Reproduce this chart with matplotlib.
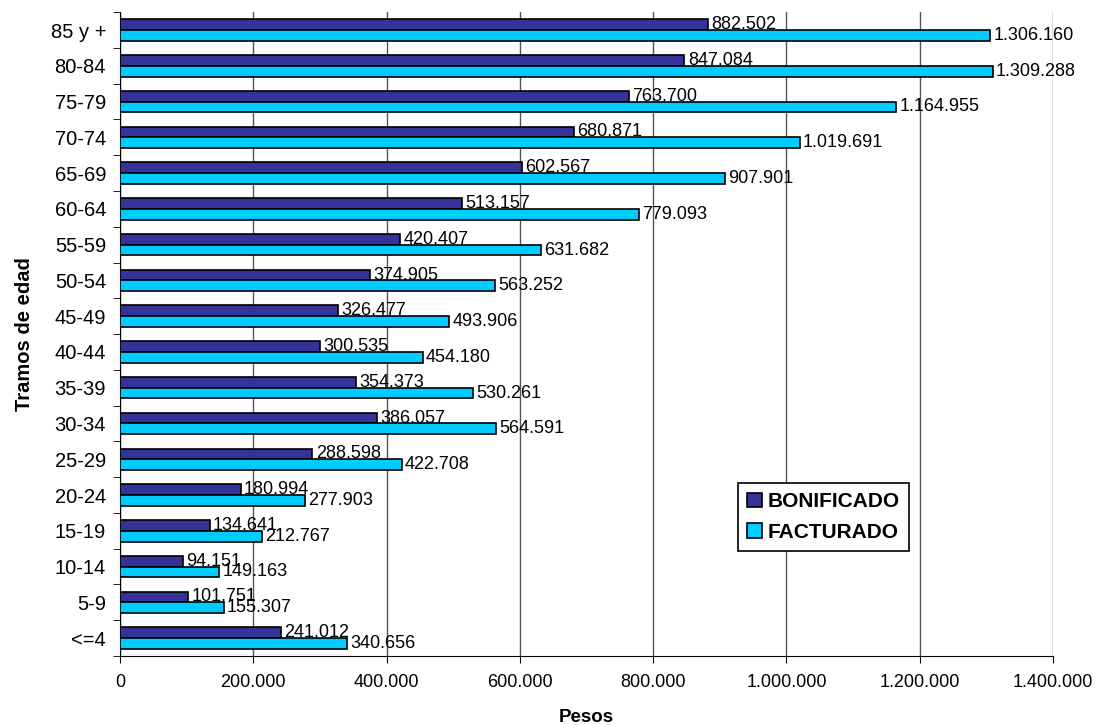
import matplotlib.pyplot as plt
import numpy as np

plt.rcParams["font.family"] = ["Liberation Sans", "DejaVu Sans"]

tramos = ["<=4", "5-9", "10-14", "15-19", "20-24", "25-29", "30-34", "35-39",
          "40-44", "45-49", "50-54", "55-59", "60-64", "65-69", "70-74",
          "75-79", "80-84", "85 y +"]
bonificado = [241012, 101751, 94151, 134641, 180994, 288598, 386057, 354373,
              300535, 326477, 374905, 420407, 513157, 602567, 680871,
              763700, 847084, 882502]
facturado = [340656, 155307, 149163, 212767, 277903, 422708, 564591, 530261,
             454180, 493906, 563252, 631682, 779093, 907901, 1019691,
             1164955, 1309288, 1306160]


def fmt(v):
    return f"{v:,.0f}".replace(",", ".")


fig = plt.figure(figsize=(10.95, 7.25), dpi=100)
ax = fig.add_axes([0.1096, 0.0952, 0.852, 0.888])

y = np.arange(len(tramos))
h = 0.3
ax.barh(y + h / 2, bonificado, height=h, color="#333399", edgecolor="black",
        linewidth=1.2, label="BONIFICADO", zorder=3)
ax.barh(y - h / 2, facturado, height=h, color="#00CCFF", edgecolor="black",
        linewidth=1.2, label="FACTURADO", zorder=3)

for yy, v in zip(y + h / 2, bonificado):
    ax.text(v + 5000, yy, fmt(v), ha="left", va="center", fontsize=13, zorder=4)
for yy, v in zip(y - h / 2, facturado):
    ax.text(v + 5000, yy, fmt(v), ha="left", va="center", fontsize=13, zorder=4)

ax.set_xlim(0, 1400000)
ax.set_ylim(-0.5, len(tramos) - 0.5)
ax.set_xticks(np.arange(0, 1400001, 200000))
ax.set_xticklabels([fmt(v) for v in np.arange(0, 1400001, 200000)], fontsize=13)
ax.set_yticks(y)
ax.set_yticklabels(tramos, fontsize=14.5)
ax.set_yticks(np.arange(-0.5, len(tramos), 1), minor=True)
ax.tick_params(axis="y", which="major", length=0, pad=10)
ax.tick_params(axis="y", which="minor", length=5, direction="out")
ax.tick_params(axis="x", length=5, direction="out", pad=8)

ax.grid(axis="x", color="#555555", linewidth=1, zorder=0)
ax.spines["top"].set_visible(False)
ax.spines["right"].set_visible(False)

ax.set_xlabel("Pesos", fontsize=13.5, fontweight="bold", labelpad=13)
ax.set_ylabel("Tramos de edad", fontsize=14.5, fontweight="bold", labelpad=12)

leg = ax.legend(loc="lower left", bbox_to_anchor=(0.662, 0.163), fancybox=False,
                framealpha=1, edgecolor="black", prop={"weight": "bold", "size": 15},
                handlelength=0.7, handleheight=0.7, handletextpad=0.3,
                borderpad=0.45, labelspacing=0.55, borderaxespad=0)
leg.get_frame().set_linewidth(1.2)

fig.savefig("out.png", dpi=100)
